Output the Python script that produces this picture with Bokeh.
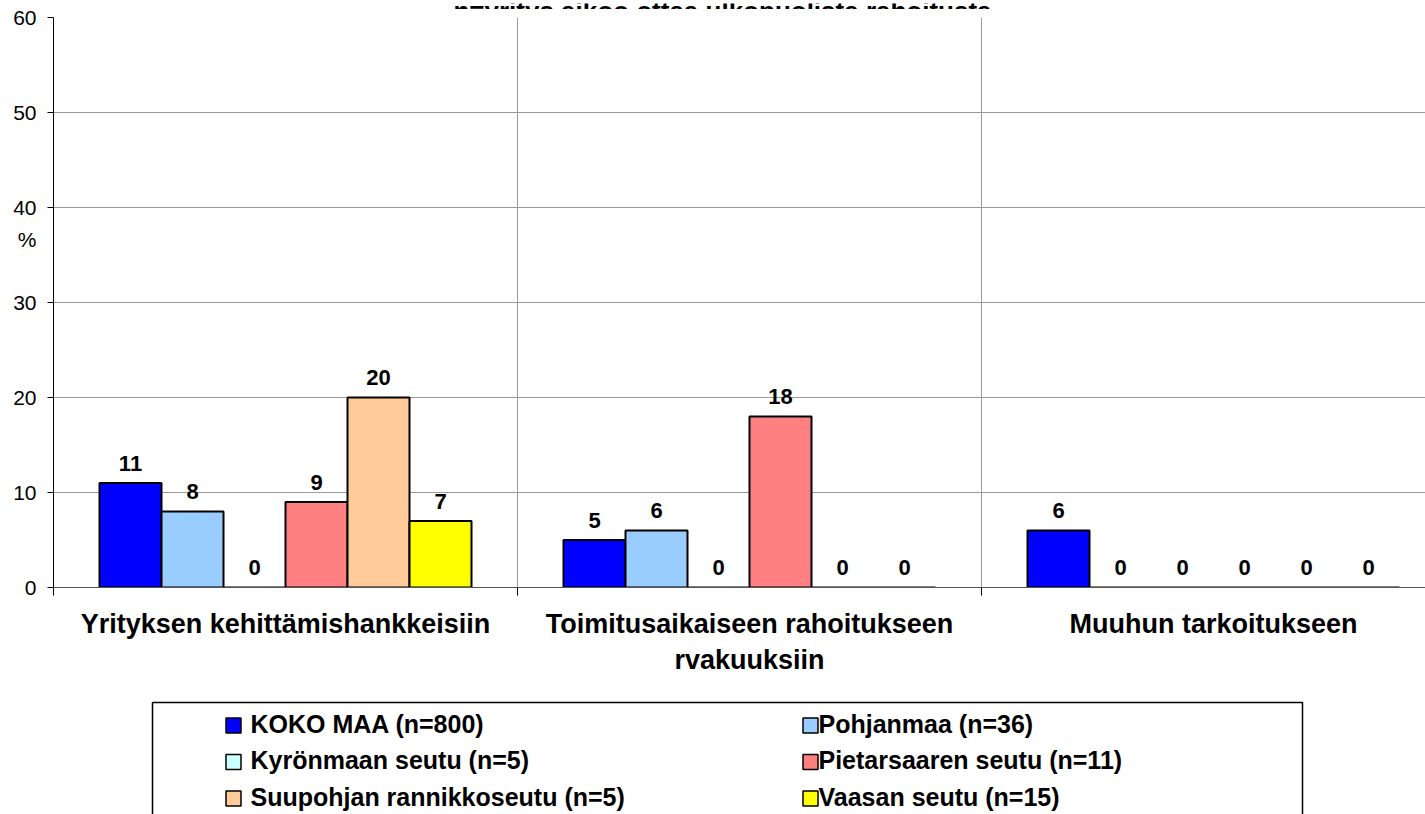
from bokeh.plotting import figure
from bokeh.models import Range1d, FixedTicker
from bokeh.layouts import column
from bokeh.embed import file_html
from bokeh.resources import INLINE
from bokeh.core.properties import value

# ---------------- data ----------------
title_text = "n=yritys aikoo ottaa ulkopuolista rahoitusta"
categories = [
    "Yrityksen kehittämishankkeisiin",
    "Toimitusaikaiseen rahoitukseen\nrvakuuksiin",
    "Muuhun tarkoitukseen",
]
series_names = [
    "KOKO MAA (n=800)",
    "Pohjanmaa (n=36)",
    "Kyrönmaan seutu (n=5)",
    "Pietarsaaren seutu (n=11)",
    "Suupohjan rannikkoseutu (n=5)",
    "Vaasan seutu (n=15)",
]
series_colors = ["#0000FF", "#99CCFF", "#CCFFFF", "#FF8080", "#FFCC99", "#FFFF00"]
koko_maa = [11, 5, 6]
pohjanmaa = [8, 6, 0]
kyronmaa = [0, 0, 0]
pietarsaari = [9, 18, 0]
suupohja = [20, 0, 0]
vaasa = [7, 0, 0]
series_values = [koko_maa, pohjanmaa, kyronmaa, pietarsaari, suupohja, vaasa]
y_ticks = [0, 10, 20, 30, 40, 50, 60]
y_label = "%"
y_label_pos = 36.6

FONT = value("Liberation Sans")

# ---------------- layout ----------------
W = 1425
H_T = 9
H_MAIN = 681
H_LEG = 124
LEFT = 53
TOP = 8
BOTTOM = 103
CAT_PX = 464.0
frame_w = W - LEFT
x_end = frame_w / CAT_PX

# ---------------- title strip (cut off at the top, as in the original) ----------------
t = figure(width=W, height=H_T, output_backend="svg", toolbar_location=None,
           x_range=Range1d(LEFT, W), y_range=Range1d(H_T, 0),
           min_border_left=LEFT, min_border_right=0, min_border_top=0, min_border_bottom=0,
           x_axis_location=None, y_axis_location=None)
t.outline_line_color = None
t.grid.grid_line_color = None
t.background_fill_color = "white"
t.border_fill_color = "white"
t.text(x=[722], y=[7], text=[title_text], text_align="center", text_baseline="alphabetic",
       text_font=FONT, text_font_style="bold", text_font_size="26px", text_color="black")

# ---------------- main chart ----------------
p = figure(width=W, height=H_MAIN, output_backend="svg", toolbar_location=None,
           x_range=Range1d(0, x_end), y_range=Range1d(0, 60),
           min_border_left=LEFT, min_border_right=0, min_border_top=TOP,
           min_border_bottom=BOTTOM)
p.outline_line_color = None
p.background_fill_color = "white"
p.border_fill_color = "white"

n_series = len(series_values)
bar_w = 62.0 / CAT_PX
for i, (vals, col) in enumerate(zip(series_values, series_colors)):
    xs = [c + 0.5 + (i - (n_series - 1) / 2) * bar_w for c in range(len(categories))]
    p.vbar(x=xs, top=vals, width=bar_w, fill_color=col, line_color="black", line_width=2)
    p.text(x=xs, y=vals, text=[str(v) for v in vals], text_align="center",
           text_baseline="alphabetic", y_offset=-20, text_font=FONT,
           text_font_style="bold", text_font_size="22px", text_color="black")

# x axis: boundary ticks (minor), category labels at centres
xax = p.xaxis[0]
centers = [c + 0.5 for c in range(len(categories))]
bounds = [float(c) for c in range(len(categories) + 1)]
xax.ticker = FixedTicker(ticks=centers, minor_ticks=bounds)
xax.major_label_overrides = {c: lab for c, lab in zip(centers, categories)}
xax.major_tick_out = 0
xax.major_tick_in = 0
xax.major_tick_line_color = None
xax.minor_tick_out = 8
xax.minor_tick_in = 0
xax.minor_tick_line_color = "black"
xax.axis_line_color = "#555555"
xax.major_label_standoff = 13
xax.major_label_text_font = "Liberation Sans"
xax.major_label_text_font_style = "bold"
xax.major_label_text_font_size = "27px"
xax.major_label_text_color = "black"

# y axis: tick marks as minor ticks, labels (numbers and "%") as major ticks
yax = p.yaxis[0]
yax.ticker = FixedTicker(ticks=y_ticks + [y_label_pos], minor_ticks=y_ticks)
yax.major_label_overrides = {y_label_pos: y_label}
yax.major_tick_out = 6
yax.major_tick_in = 0
yax.major_tick_line_color = None
yax.minor_tick_out = 6
yax.minor_tick_in = 0
yax.minor_tick_line_color = "black"
yax.axis_line_color = "black"
yax.major_label_standoff = 11
yax.major_label_text_font = "Liberation Sans"
yax.major_label_text_font_size = "21px"
yax.major_label_text_color = "black"

p.ygrid.ticker = FixedTicker(ticks=y_ticks)
p.ygrid.grid_line_color = "#9a9a9a"
p.xgrid.ticker = FixedTicker(ticks=bounds[1:])
p.xgrid.grid_line_color = "#9a9a9a"

# ---------------- legend ----------------
q = figure(width=W, height=H_LEG, output_backend="svg", toolbar_location=None,
           x_range=Range1d(LEFT, W), y_range=Range1d(H_LEG, 0),
           min_border_left=LEFT, min_border_right=0, min_border_top=0, min_border_bottom=0,
           x_axis_location=None, y_axis_location=None)
q.outline_line_color = None
q.grid.grid_line_color = None
q.background_fill_color = "white"
q.border_fill_color = "white"

q.quad(left=[152], right=[1302], top=[12], bottom=[H_LEG + 40], fill_color=None,
       line_color="black", line_width=1.5)
col_glyph_x = [233, 810]
col_text_x = [250, 818]
row0 = 35
row_step = 36.5
gx, gy, gc, tx, ty = [], [], [], [], []
for i, (name, colr) in enumerate(zip(series_names, series_colors)):
    r, c = divmod(i, 2)
    gx.append(col_glyph_x[c])
    gy.append(row0 + r * row_step)
    gc.append(colr)
    tx.append(col_text_x[c])
    ty.append(row0 + r * row_step - 2)
q.rect(x=gx, y=gy, width=15, height=15, fill_color=gc, line_color="black", line_width=1.5)
q.text(x=tx, y=ty, text=series_names, text_align="left", text_baseline="middle",
       text_font=FONT, text_font_style="bold", text_font_size="25px", text_color="black")

layout = column(t, p, q, spacing=0)
open("out.html", "w").write(file_html(layout, INLINE))
